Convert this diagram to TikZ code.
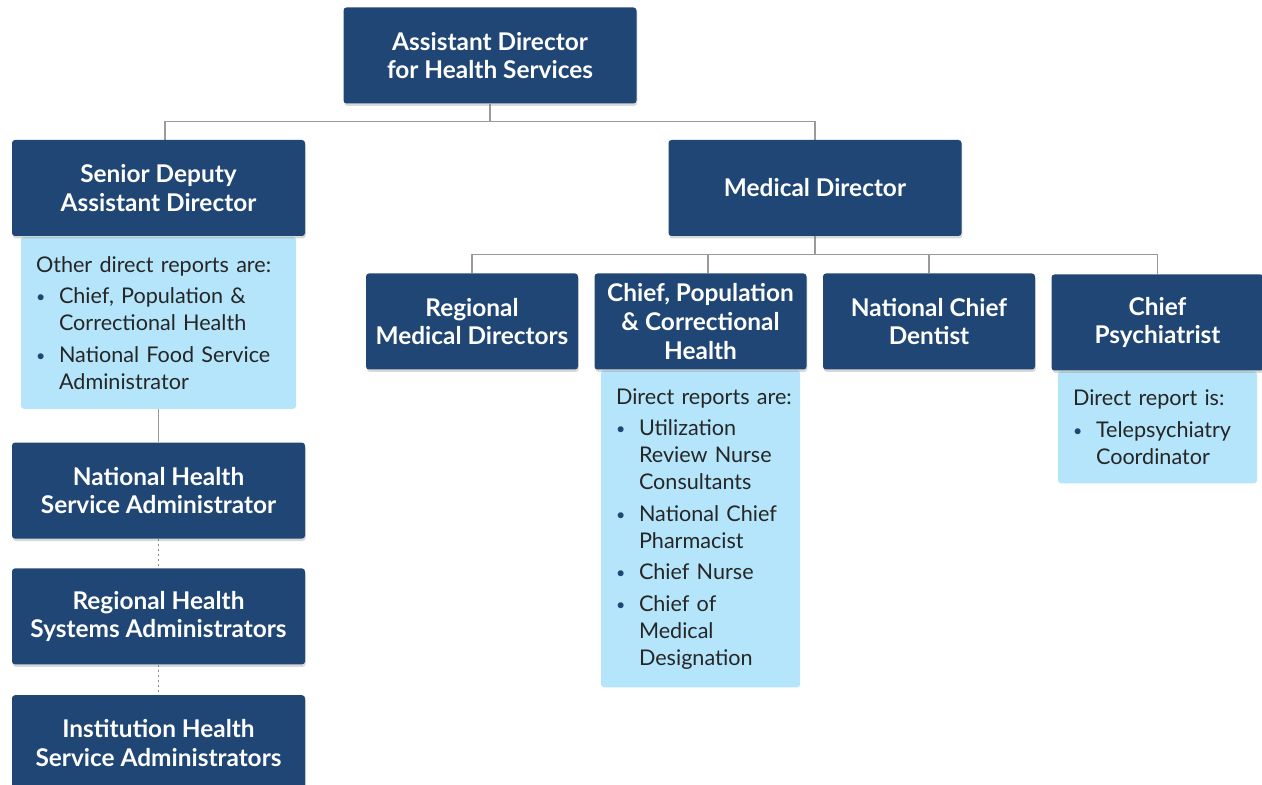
\documentclass[tikz,border=0pt]{standalone}
\usepackage{fontspec}
\setmainfont{Lato}
\usepackage{tikz}
\usetikzlibrary{positioning,calc,shadows,backgrounds}
\definecolor{hsnavy}{HTML}{1F4674}
\definecolor{hslight}{HTML}{B4E5FB}
\definecolor{hsline}{HTML}{9A9A9A}
\newcommand\repitem[1]{\par\vspace{2.3pt}\hangindent=11.5pt\hangafter=1\noindent
  \hbox to 11.5pt{\raisebox{0.6pt}{\textcolor{hsnavy}{\fontsize{8}{8}\selectfont\textbullet}}\hss}#1\par}
\tikzset{
    post/.style={
        rectangle,
        rounded corners=1.5pt,
        fill=hsnavy,
        text=white,
        align=center,
        font=\bfseries\fontsize{12.2}{14.4}\selectfont,
        minimum width=146.5pt,
        minimum height=48pt,
        inner sep=2pt,
        drop shadow={shadow xshift=0.4pt,shadow yshift=-1.2pt,opacity=0.3},
    },
    small post/.style={
        post,
        minimum width=106pt,
    },
    reports/.style={
        rectangle,
        rounded corners=1.5pt,
        fill=hslight,
        text=black!85,
        align=left,
        font=\fontsize{10.8}{13.5}\selectfont,
        inner xsep=7.5pt,
        inner ysep=2pt,
    },
    link/.style={
        draw=hsline,
        line width=0.6pt,
    },
    dotlink/.style={
        link,
        draw=black!45,
        dash pattern=on 1pt off 1.5pt,
    },
}
\begin{document}
\begin{tikzpicture}[x=0.5pt,y=-0.5pt]
    \useasboundingbox (0,0) rectangle (1262,785);
    \clip (0,0) rectangle (1262,785);
    \node[post](ahs) at (490,55.5) {Assistant Director\\for Health Services};
    \node[post](sda) at (158.5,188) {Senior Deputy\\Assistant Director};
    \node[post](med) at (815,188) {Medical Director};
    \node[small post](rmd) at (472,321.5) {Regional\\Medical Directors};
    \node[small post](cpc) at (700.5,321.5) {Chief, Population\\\& Correctional\\Health};
    \node[small post](ncd) at (929,321.5) {National Chief\\Dentist};
    \node[small post](cps) at (1157.5,322.5) {Chief\\Psychiatrist};
    \begin{scope}[on background layer]
        \node[reports,below=0pt of sda,text width=122.5pt,minimum height=86pt](sdanotes) {%
            \mbox{Other direct reports are:}%
            \repitem{Chief, Population \&\newline Correctional Health}%
            \repitem{National Food Service\newline Administrator}};
        \node[reports,below=0pt of cpc,text width=84.5pt,minimum height=158.5pt](cpcnotes) {%
            \mbox{Direct reports are:}%
            \repitem{Utilization\newline Review Nurse\newline Consultants}%
            \repitem{National Chief\newline Pharmacist}%
            \repitem{Chief Nurse}%
            \repitem{Chief of\newline Medical\newline Designation}};
        \node[reports,below=0pt of cps,text width=84.5pt,minimum height=56pt](cpsnotes) {%
            \mbox{Direct report is:}%
            \repitem{Telepsychiatry\newline Coordinator}};
        \coordinate (topbus) at ($(ahs.south)+(0,18)$);
        \coordinate (medbus) at ($(med.south)+(0,18)$);
        \draw[link] (ahs.south) -- (topbus);
        \draw[link] ([xshift=3.25pt]sda.north) |- (topbus) -| (med.north);
        \draw[link] (med.south) -- (medbus);
        \draw[link] (rmd.north) |- (medbus) -| (cps.north);
        \draw[link] ([xshift=3.75pt]cpc.north) -- ([xshift=3.75pt]cpc.north |- medbus);
        \draw[link] (ncd.north) -- (ncd.north |- medbus);
    \end{scope}
    \node[post,below=16.5pt of sdanotes](nhsa) {National Health\\Service Administrator};
    \node[post,below=14.5pt of nhsa](rhsa) {Regional Health\\Systems Administrators};
    \node[post,below=15pt of rhsa](ihsa) {Institution Health\\Service Administrators};
    \begin{scope}[on background layer]
        \draw[link] (sdanotes.south) -- (nhsa.north);
        \draw[dotlink] (nhsa.south) -- (rhsa.north);
        \draw[dotlink] (rhsa.south) -- (ihsa.north);
    \end{scope}
\end{tikzpicture}
\end{document}
